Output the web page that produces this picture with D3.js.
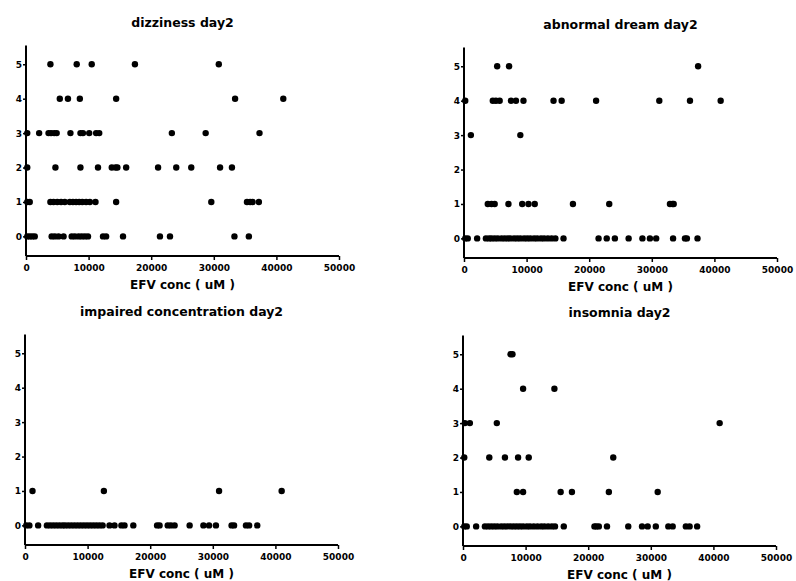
<!DOCTYPE html>
<html>
<head>
<meta charset="utf-8">
<script src="https://cdn.jsdelivr.net/npm/d3@7"></script>
<style>
  body { margin: 0; background: #fff; }
  text { font-family: "DejaVu Sans", "Liberation Sans", sans-serif; font-weight: bold; fill: #000; }
</style>
</head>
<body>
<div id="chart"></div>
<script>
// EFV concentrations (uM), grouped by score 0..5
const dizziness = [
  [200, 600, 1000, 1400, 4100, 4600, 5200, 6000, 7300, 7800, 8400, 8900, 9400, 9900, 12300, 12800, 15500, 21400, 23000, 33300, 35600],
  [200, 600, 3900, 4400, 5000, 5600, 6200, 7000, 7500, 8000, 8500, 9000, 9600, 10200, 11100, 14400, 29600, 35300, 35800, 36200, 37200],
  [200, 4700, 8700, 11500, 13700, 14300, 14600, 16000, 21100, 24000, 26400, 31000, 32900],
  [200, 2100, 3600, 4000, 4500, 4900, 7100, 8700, 9100, 10100, 11200, 11700, 23300, 28700, 37300],
  [5400, 6700, 8600, 14400, 33400, 41100],
  [3900, 8100, 10500, 17400, 30800]
];
const abnormalDream = [
  [200, 600, 2100, 3500, 4000, 4400, 4900, 5400, 6000, 6500, 7000, 7400, 8000, 8500, 9000, 9600, 10100, 10600, 11200, 11700, 12300, 12800, 13400, 14000, 14600, 15900, 21500, 22800, 24100, 26300, 28500, 29700, 30700, 33400, 35300, 35600, 37300],
  [3800, 4400, 4900, 7100, 9300, 10300, 11300, 17400, 23200, 32900, 33300, 33500],
  [],
  [1100, 9000],
  [200, 4600, 5100, 5700, 7500, 8300, 9500, 14300, 15600, 21100, 31200, 36100, 41000],
  [5300, 7200, 37400]
];
const impairedConcentration = [
  [200, 700, 2100, 3500, 4000, 4500, 5000, 5500, 6000, 6400, 6900, 7400, 7900, 8400, 8900, 9400, 9900, 10400, 10900, 11400, 11900, 12400, 13500, 14300, 15400, 15900, 17300, 21100, 21500, 22800, 23300, 23900, 26300, 28500, 29400, 30500, 33000, 33400, 35300, 35800, 37100],
  [1200, 12600, 31000, 41000],
  [], [], [], []
];
const insomnia = [
  [200, 600, 2100, 3500, 4000, 4500, 5000, 5500, 6100, 6600, 7100, 7600, 8100, 8600, 9100, 9600, 10200, 10700, 11300, 11900, 12500, 13000, 13600, 14200, 14700, 16100, 21000, 21300, 21700, 23000, 26400, 28600, 29500, 30800, 32800, 33500, 35600, 36200, 37400],
  [8600, 9600, 15600, 17400, 23300, 31100],
  [200, 4200, 6700, 8800, 10500, 24000],
  [300, 1100, 5400, 41000],
  [9600, 14600],
  [7600, 7900]
];

const titles = ["dizziness day2", "abnormal dream day2", "impaired concentration day2", "insomnia day2"];
const xTicks = [0, 10000, 20000, 30000, 40000, 50000];
const yTicks = [0, 1, 2, 3, 4, 5];
const xLabel = "EFV conc ( uM )";

const W = 796, H = 581;
const svg = d3.select("#chart").append("svg").attr("width", W).attr("height", H);

// plot boxes (left, top of axis frame)
const boxes = [
  {x: 26, y: 45}, {x: 464, y: 47},
  {x: 25, y: 334}, {x: 463, y: 335}
];
const pw = 313, ph = 211;
const sets = [dizziness, abnormalDream, impairedConcentration, insomnia];

sets.forEach((levels, i) => {
  const b = boxes[i];
  const g = svg.append("g").attr("transform", `translate(${b.x},${b.y})`);
  const x = d3.scaleLinear().domain([0, 50000]).range([0, pw]);
  const y = d3.scaleLinear().domain([-0.57, 5.56]).range([ph, 0]);

  const pts = [];
  levels.forEach((arr, lv) => arr.forEach(v => pts.push({x: v, y: lv})));

  const xa = g.append("g").attr("transform", `translate(0,${ph})`)
    .call(d3.axisBottom(x).tickValues(xTicks).tickSize(4).tickFormat(d3.format("d")));
  const ya = g.append("g")
    .call(d3.axisLeft(y).tickValues(yTicks).tickSize(3).tickPadding(1).tickFormat(d3.format("d")));
  [xa, ya].forEach(a => {
    a.select(".domain").attr("stroke", "#000").attr("stroke-width", 2);
    a.selectAll(".tick line").attr("stroke", "#000").attr("stroke-width", 1.5);
    a.selectAll("text").attr("font-size", 9).style("font-family", "DejaVu Sans").style("font-weight", "bold");
  });
  xa.selectAll("text").attr("dy", "0.9em");
  // axisBottom/Left draw the domain with outer ticks; drop them
  xa.select(".domain").attr("d", `M0.5,0H${pw}`);
  ya.select(".domain").attr("d", `M0,${ph}V0.5`);

  g.selectAll("circle").data(pts).enter().append("circle")
    .attr("cx", d => x(d.x))
    .attr("cy", d => y(d.y))
    .attr("r", 3.2)
    .attr("fill", "#000");

  g.append("text")
    .attr("x", pw / 2).attr("y", -18)
    .attr("text-anchor", "middle")
    .attr("font-size", 12.5)
    .text(titles[i]);

  g.append("text")
    .attr("x", pw / 2).attr("y", ph + 33)
    .attr("text-anchor", "middle")
    .attr("font-size", 12)
    .text(xLabel);
});
</script>
</body>
</html>
